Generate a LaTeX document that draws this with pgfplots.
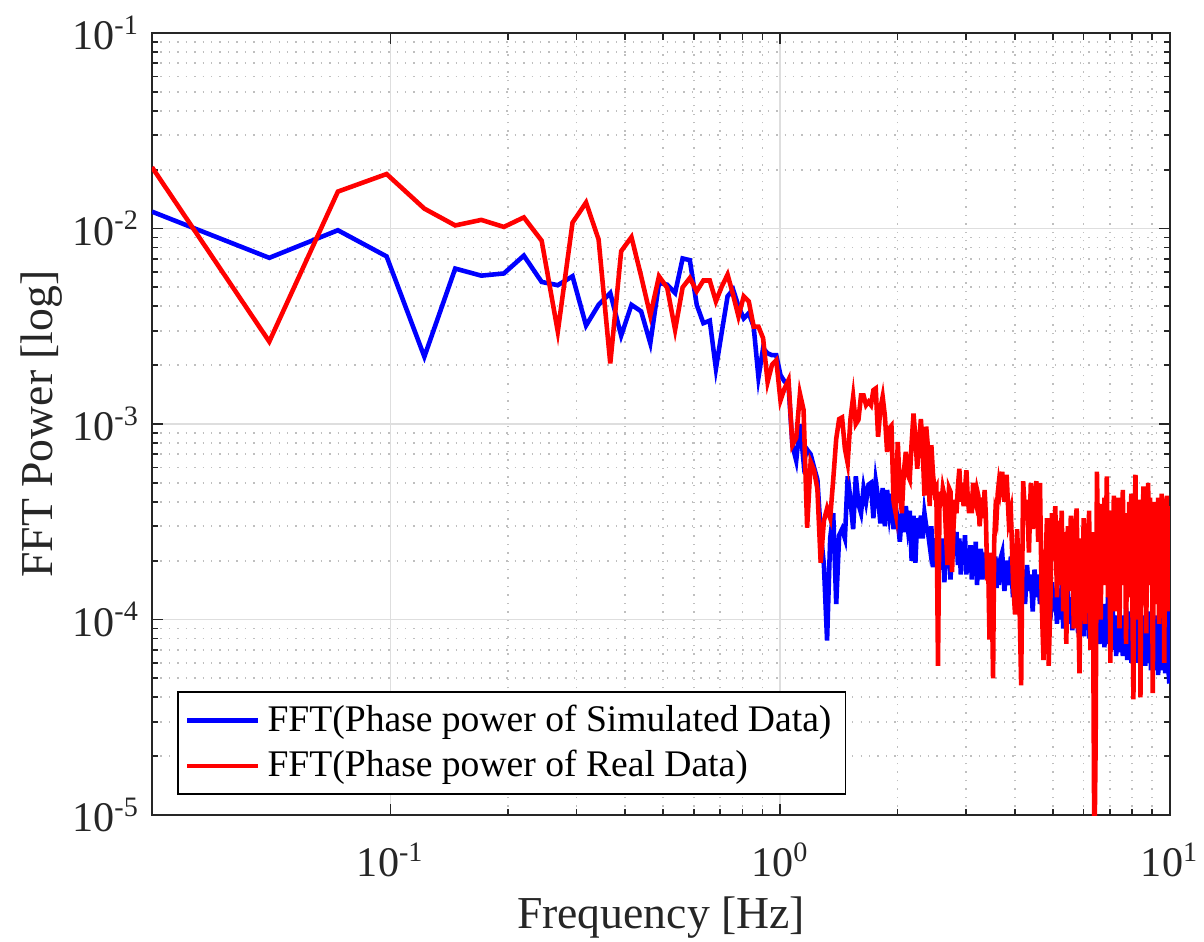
\documentclass[border=0pt]{standalone}
\usepackage{fontspec}
\setmainfont{Liberation Serif}
\usepackage{pgfplots}
\usepackage{pgfplotstable}
\pgfplotsset{compat=1.18}

\pgfplotstableread{
k b r
1 0.0122 0.0206
2 0.00708 0.00264
3 0.0098 0.01545
4 0.0072 0.0190
5 0.00221 0.01264
6 0.00624 0.01037
7 0.00574 0.01107
8 0.00589 0.01019
9 0.00727 0.01140
10 0.00533 0.00866
11 0.00513 0.00297
12 0.00570 0.01071
13 0.00319 0.01359
14 0.00407 0.00879
15 0.00468 0.00204
16 0.00283 0.00766
17 0.00407 0.00904
18 0.00377 0.00570
19 0.00259 0.00359
20 0.00527 0.00570
21 0.00516 0.00497
22 0.00468 0.00303
23 0.00703 0.00500
24 0.00689 0.00558
25 0.00407 0.00478
26 0.00328 0.00542
27 0.00338 0.00542
28 0.00192 0.00424
29 0.00297 0.00506
30 0.00450 0.00581
31 0.00487 0.00458
32 0.00400 0.00355
33 0.00347 0.00450
34 0.00369 0.00424
35 0.00315 0.00315
36 0.00173 0.00315
37 0.00244 0.00275
38 0.00230 0.00164
39 0.00225 0.00201
40 0.00225 0.00212
41 0.00178 0.00132
42 0.00165 0.00152
43 0.00158 0.00168
44 0.00078 0.00078
45 0.00065 0.00085
46 0.00100 0.00143
47 0.00064 0.00118
48 0.00074 0.000295
49 0.00070 0.00064
50 0.00060 0.00058
51 0.00052 0.000465
52 0.00028 0.000195
53 0.00019 0.00032
54 0.000078 0.00037
55 0.00026 0.00033
56 0.00035 0.00052
57 0.00012 0.00084
58 0.00027 0.00106
59 0.00029 0.00108
60 0.00026 0.00075
61 0.00054 0.00063
62 0.00041 0.00106
63 0.00029 0.00138
64 0.00054 0.00100
65 0.00039 0.00105
66 0.00035 0.00140
67 0.00047 0.00140
68 0.00040 0.00125
69 0.00049 0.00130
70 0.00050 0.00125
71 0.00033 0.00149
72 0.00051 0.00152
73 0.00042 0.00086
74 0.00031 0.00120
75 0.00047 0.00138
76 0.00030 0.00110
77 0.00046 0.00072
78 0.00035 0.00095
79 0.00044 0.00098
80 0.00029 0.00040
81 0.00038 0.00035
82 0.00032 0.00081
83 0.00025 0.00047
84 0.00035 0.00035
85 0.00028 0.00057
86 0.00038 0.00072
87 0.00030 0.00055
88 0.00036 0.00052
89 0.00020 0.00080
90 0.00034 0.00113
91 0.000195 0.00085
92 0.00033 0.00059
93 0.00026 0.00080
94 0.00034 0.00106
95 0.00026 0.00075
96 0.00035 0.00043
97 0.00030 0.00097
98 0.00028 0.00076
99 0.00024 0.00038
100 0.00030 0.00078
101 0.000185 0.00055
102 0.00026 0.00045
103 0.00020 0.00047
104 0.00025 0.000058
105 0.00021 0.00045
106 0.00018 0.00038
107 0.00026 0.00047
108 0.000155 0.00043
109 0.00024 0.00028
110 0.00019 0.00019
111 0.00022 0.00047
112 0.00016 0.00045
113 0.00025 0.000175
114 0.00027 0.00030
115 0.00022 0.00041
116 0.00028 0.00035
117 0.00019 0.00048
118 0.00026 0.00059
119 0.00017 0.00040
120 0.00025 0.00050
121 0.00021 0.00038
122 0.00027 0.00046
123 0.00017 0.00058
124 0.00023 0.00042
125 0.00018 0.00035
126 0.00024 0.00044
127 0.00016 0.00035
128 0.00023 0.00050
129 0.00019 0.00043
130 0.00025 0.00040
131 0.00015 0.00046
132 0.00022 0.00043
133 0.00018 0.00030
134 0.00023 0.00037
135 0.00016 0.00042
136 0.00021 0.00033
137 0.00017 0.00046
138 0.00022 0.00034
139 0.00016 0.000175
140 0.00020 0.00018
141 0.00017 0.000079
142 0.00021 0.00022
143 0.00015 0.00013
144 0.00020 0.000050
145 0.00016 0.00025
146 0.00021 0.00035
147 0.000145 0.00033
148 0.00019 0.00044
149 0.00015 0.00050
150 0.00020 0.00046
152 0.00022 0.00057
154 0.00014 0.00040
156 0.00020 0.00055
158 0.00015 0.00032
160 0.00021 0.00036
162 0.00013 0.00016
164 0.00019 0.000106
166 0.00016 0.00029
168 0.00019 0.00015
170 0.00013 0.000046
172 0.00018 0.00051
174 0.00012 0.00034
176 0.00019 0.00041
178 0.00014 0.00022
180 0.00017 0.00050
182 0.00011 0.00029
184 0.00018 0.00043
186 0.00013 0.00051
188 0.00017 0.00025
190 0.00012 0.00050
192 0.00016 0.00012
194 0.000105 0.000062
196 0.00016 0.00017
198 0.00012 0.00033
200 0.00015 0.000058
202 0.00010 0.00012
204 0.000155 0.00035
206 0.00011 0.00020
208 0.000145 0.00038
210 0.000095 0.00013
212 0.00014 0.00032
214 0.00010 0.00015
216 0.00015 0.00036
218 0.000090 0.00011
220 0.000135 0.00028
222 0.000105 0.000075
224 0.00014 0.00030
226 0.000095 0.00014
228 0.00013 0.00034
230 0.000088 0.00022
232 0.000135 0.000090
234 0.00010 0.00030
236 0.00013 0.00037
238 0.000085 0.00012
240 0.000125 0.000053
242 0.000095 0.00026
244 0.00013 0.00014
246 0.000082 0.00033
248 0.00012 0.000095
250 0.000090 0.00031
252 0.000125 0.00016
254 0.000080 0.00036
256 0.000115 0.000070
258 0.000085 0.00028
260 0.00012 0.00013
262 0.000078 0.0000060
264 0.00011 0.000023
266 0.000085 0.00057
268 0.000115 0.00024
270 0.000075 0.00034
272 0.00011 0.00010
274 0.000080 0.00039
276 0.00012 0.00015
278 0.000072 0.00042
280 0.000105 0.00020
282 0.000085 0.00054
284 0.00013 0.00013
286 0.000075 0.00036
288 0.000115 0.000060
290 0.000080 0.00031
292 0.00012 0.00018
294 0.000070 0.00043
296 0.000105 0.00011
298 0.000065 0.00037
300 0.00010 0.00024
302 0.000075 0.00042
304 0.00011 0.000090
306 0.000068 0.00032
308 0.000105 0.00015
310 0.000065 0.00046
312 0.00010 0.00020
314 0.000070 0.00035
316 0.000115 0.000075
318 0.000062 0.00029
320 0.00010 0.00013
322 0.000068 0.00040
324 0.00011 0.00025
326 0.000060 0.00044
328 0.000095 0.00012
330 0.000065 0.000039
332 0.00012 0.00027
334 0.000070 0.00055
336 0.00010 0.00016
338 0.000060 0.00038
340 0.000105 0.00010
342 0.000065 0.00041
344 0.000095 0.000040
346 0.000058 0.00030
348 0.00010 0.00017
350 0.000062 0.00048
352 0.000105 0.00022
354 0.000058 0.00036
356 0.000090 0.000085
358 0.000060 0.00033
360 0.00011 0.00050
362 0.000065 0.00015
364 0.000095 0.00042
366 0.000055 0.00020
368 0.00010 0.00038
370 0.000060 0.000042
372 0.000090 0.00026
374 0.000055 0.00040
376 0.000105 0.00012
378 0.000060 0.00035
380 0.000095 0.00018
382 0.000052 0.00042
384 0.00010 0.000095
386 0.000058 0.00037
388 0.000090 0.00023
390 0.000055 0.00044
392 0.00011 0.00013
394 0.000060 0.00039
396 0.000090 0.000060
398 0.000053 0.00040
400 0.00010 0.00020
402 0.000058 0.00043
404 0.00012 0.00011
406 0.000055 0.00038
408 0.000047 0.00024
}\datatable

\begin{document}
\begin{tikzpicture}
\begin{axis}[
  scale only axis,
  width=10.18cm, height=7.82cm,
  xmode=log, ymode=log,
  xmin=0.0244140625, xmax=10,
  ymin=1e-5, ymax=1e-1,
  xtick={0.1,1,10},
  xticklabels={10\textsuperscript{-1},10\textsuperscript{0},10\textsuperscript{1}},
  ytick={1e-5,1e-4,1e-3,1e-2,1e-1},
  yticklabels={10\textsuperscript{-5},10\textsuperscript{-4},10\textsuperscript{-3},10\textsuperscript{-2},10\textsuperscript{-1}},
  tick label style={font=\fontsize{12pt}{14pt}\selectfont, text=black!85},
  xticklabel style={anchor=base, yshift=-0.617cm},
  grid=both,
  major grid style={black!13, line width=0.5pt},
  minor grid style={black!25, dotted, line width=0.5pt},
  tick align=inside,
  major tick length=0.11cm,
  minor tick length=0.065cm,
  every tick/.style={black!85, line width=0.5pt},
  axis line style={black!85, line width=0.6pt},
  xlabel={Frequency [Hz]},
  ylabel={FFT Power [log]},
  label style={font=\fontsize{13pt}{15pt}\selectfont, text=black!85},
  xlabel style={at={(axis description cs:0.5,-0.1445)}, anchor=base},
  ylabel style={at={(axis description cs:-0.098,0.5)}, anchor=base, rotate=0},
  legend style={at={(0.0246,0.0256)}, anchor=south west, draw=black, line width=0.5pt,
    font=\fontsize{10.7pt}{12.8pt}\selectfont, inner xsep=2pt, inner ysep=1.5pt,
    row sep=-0.1pt},
  legend cell align=left,
  legend image code/.code={\draw[#1] (0cm,0cm) -- (0.71cm,0cm);},
]
\addplot[blue, line width=1.3pt] table[x expr=\thisrow{k}*0.0244140625, y=b] {\datatable};
\addlegendentry{FFT(Phase power of Simulated Data)}
\addplot[red, line width=1.3pt] table[x expr=\thisrow{k}*0.0244140625, y=r] {\datatable};
\addlegendentry{FFT(Phase power of Real Data)}
\end{axis}
\pgfresetboundingbox
\path ([shift={(-1.52cm,-1.27cm)}]current axis.south west) rectangle ([shift={(0.34cm,0.33cm)}]current axis.north east);
\end{tikzpicture}
\end{document}
